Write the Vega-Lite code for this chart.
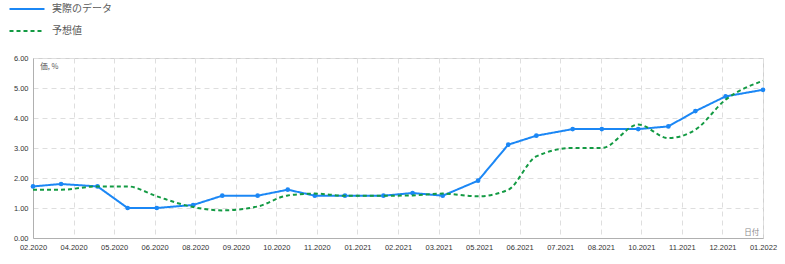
{
  "$schema": "https://vega.github.io/schema/vega-lite/v6.json",
  "width": 730,
  "height": 180,
  "autosize": {"type": "none"},
  "padding": {"left": 33, "top": 58, "right": 22, "bottom": 26},
  "background": "white",
  "config": {
    "view": {"stroke": "#d0d0d0", "strokeWidth": 1},
    "font": "Liberation Sans",
    "axis": {
      "grid": true,
      "gridColor": "#dedede",
      "gridDash": [5, 4],
      "gridWidth": 1,
      "ticks": false,
      "domainColor": "#b0b0b0",
      "labelFont": "Liberation Sans",
      "labelFontSize": 7.5,
      "labelColor": "#333333",
      "labelPadding": 5,
      "titleFont": "Noto Sans CJK JP",
      "titleFontSize": 7.5,
      "titleFontWeight": "normal",
      "titleAngle": 0
    }
  },
  "data": {
    "values": [
      {"date": "2020-02-29", "series": "実際のデータ", "value": 1.72},
      {"date": "2020-03-27", "series": "実際のデータ", "value": 1.80},
      {"date": "2020-05-01", "series": "実際のデータ", "value": 1.72},
      {"date": "2020-05-30", "series": "実際のデータ", "value": 1.00},
      {"date": "2020-06-27", "series": "実際のデータ", "value": 1.00},
      {"date": "2020-08-01", "series": "実際のデータ", "value": 1.10},
      {"date": "2020-08-29", "series": "実際のデータ", "value": 1.41},
      {"date": "2020-10-02", "series": "実際のデータ", "value": 1.41},
      {"date": "2020-10-31", "series": "実際のデータ", "value": 1.61},
      {"date": "2020-11-26", "series": "実際のデータ", "value": 1.41},
      {"date": "2020-12-25", "series": "実際のデータ", "value": 1.41},
      {"date": "2021-01-31", "series": "実際のデータ", "value": 1.41},
      {"date": "2021-02-28", "series": "実際のデータ", "value": 1.50},
      {"date": "2021-03-29", "series": "実際のデータ", "value": 1.41},
      {"date": "2021-05-02", "series": "実際のデータ", "value": 1.91},
      {"date": "2021-05-31", "series": "実際のデータ", "value": 3.11},
      {"date": "2021-06-27", "series": "実際のデータ", "value": 3.41},
      {"date": "2021-08-01", "series": "実際のデータ", "value": 3.63},
      {"date": "2021-08-29", "series": "実際のデータ", "value": 3.63},
      {"date": "2021-10-03", "series": "実際のデータ", "value": 3.63},
      {"date": "2021-11-01", "series": "実際のデータ", "value": 3.72},
      {"date": "2021-11-27", "series": "実際のデータ", "value": 4.23},
      {"date": "2021-12-26", "series": "実際のデータ", "value": 4.72},
      {"date": "2022-01-31", "series": "実際のデータ", "value": 4.94},
      {"date": "2020-02-29", "series": "予想値", "value": 1.61},
      {"date": "2020-03-27", "series": "予想値", "value": 1.61},
      {"date": "2020-05-01", "series": "予想値", "value": 1.72},
      {"date": "2020-05-30", "series": "予想値", "value": 1.72},
      {"date": "2020-06-27", "series": "予想値", "value": 1.39},
      {"date": "2020-08-01", "series": "予想値", "value": 1.03},
      {"date": "2020-08-29", "series": "予想値", "value": 0.92},
      {"date": "2020-10-02", "series": "予想値", "value": 1.05},
      {"date": "2020-10-31", "series": "予想値", "value": 1.42},
      {"date": "2020-11-26", "series": "予想値", "value": 1.48},
      {"date": "2020-12-25", "series": "予想値", "value": 1.41},
      {"date": "2021-01-31", "series": "予想値", "value": 1.41},
      {"date": "2021-02-28", "series": "予想値", "value": 1.42},
      {"date": "2021-03-29", "series": "予想値", "value": 1.48},
      {"date": "2021-05-02", "series": "予想値", "value": 1.39},
      {"date": "2021-05-31", "series": "予想値", "value": 1.61},
      {"date": "2021-06-27", "series": "予想値", "value": 2.72},
      {"date": "2021-08-01", "series": "予想値", "value": 3.00},
      {"date": "2021-08-29", "series": "予想値", "value": 3.00},
      {"date": "2021-10-03", "series": "予想値", "value": 3.78},
      {"date": "2021-11-01", "series": "予想値", "value": 3.33},
      {"date": "2021-11-27", "series": "予想値", "value": 3.61},
      {"date": "2021-12-26", "series": "予想値", "value": 4.61},
      {"date": "2022-01-31", "series": "予想値", "value": 5.24}
    ]
  },
  "encoding": {
    "x": {
      "field": "date",
      "type": "temporal",
      "scale": {
        "type": "utc",
        "domain": [
          {"year": 2020, "month": 2, "date": 29, "utc": true},
          {"year": 2022, "month": 1, "date": 31, "utc": true}
        ]
      },
      "axis": {
        "format": "%m.%Y",
        "labelOverlap": false,
        "labelFlush": false,
        "title": "日付",
        "titleColor": "#888888",
        "titleX": 725.7,
        "titleY": -5.6,
        "titleAlign": "right",
        "titleBaseline": "middle",
        "values": [
          {"year": 2020, "month": 2, "date": 29, "utc": true},
          {"year": 2020, "month": 4, "date": 8, "utc": true},
          {"year": 2020, "month": 5, "date": 17, "utc": true},
          {"year": 2020, "month": 6, "date": 25, "utc": true},
          {"year": 2020, "month": 8, "date": 3, "utc": true},
          {"year": 2020, "month": 9, "date": 11, "utc": true},
          {"year": 2020, "month": 10, "date": 20, "utc": true},
          {"year": 2020, "month": 11, "date": 28, "utc": true},
          {"year": 2021, "month": 1, "date": 6, "utc": true},
          {"year": 2021, "month": 2, "date": 14, "utc": true},
          {"year": 2021, "month": 3, "date": 25, "utc": true},
          {"year": 2021, "month": 5, "date": 3, "utc": true},
          {"year": 2021, "month": 6, "date": 11, "utc": true},
          {"year": 2021, "month": 7, "date": 20, "utc": true},
          {"year": 2021, "month": 8, "date": 28, "utc": true},
          {"year": 2021, "month": 10, "date": 6, "utc": true},
          {"year": 2021, "month": 11, "date": 14, "utc": true},
          {"year": 2021, "month": 12, "date": 23, "utc": true},
          {"year": 2022, "month": 1, "date": 31, "utc": true}
        ]
      }
    },
    "y": {
      "field": "value",
      "type": "quantitative",
      "scale": {"domain": [0, 6], "nice": false, "zero": true},
      "axis": {
        "values": [0, 1, 2, 3, 4, 5, 6],
        "format": ".2f",
        "title": "価, %",
        "titleColor": "#555555",
        "titleX": 6.7,
        "titleY": 8.2,
        "titleAlign": "left",
        "titleBaseline": "middle"
      }
    }
  },
  "layer": [
    {
      "transform": [{"filter": "datum.series === '実際のデータ'"}],
      "mark": {"type": "line", "strokeWidth": 2},
      "encoding": {
        "color": {
          "field": "series",
          "type": "nominal",
          "scale": {"domain": ["実際のデータ", "予想値"], "range": ["#1b87f5", "#139a43"]},
          "legend": {"orient": "none", "legendX": -16, "legendY": -59, "title": null, "direction": "vertical", "symbolType": "M-2,0H2", "symbolSize": 306, "symbolStrokeWidth": 2, "labelOffset": 15, "labelFont": "Noto Sans CJK JP", "labelFontSize": 10, "labelColor": "#5a5a5a", "rowPadding": 7, "padding": 0}
        },
        "strokeDash": {
          "field": "series",
          "type": "nominal",
          "scale": {"domain": ["実際のデータ", "予想値"], "range": [[1, 0], [4, 3]]},
          "legend": {"orient": "none", "legendX": -16, "legendY": -59, "title": null, "direction": "vertical", "symbolType": "M-2,0H2", "symbolSize": 306, "symbolStrokeWidth": 2, "labelOffset": 15, "labelFont": "Noto Sans CJK JP", "labelFontSize": 10, "labelColor": "#5a5a5a", "rowPadding": 7, "padding": 0}
        }
      }
    },
    {
      "transform": [{"filter": "datum.series === '実際のデータ'"}],
      "mark": {"type": "point", "filled": true, "size": 22, "opacity": 1, "color": "#1b87f5"}
    },
    {
      "transform": [{"filter": "datum.series === '予想値'"}],
      "mark": {"type": "line", "strokeWidth": 2, "interpolate": "monotone"},
      "encoding": {
        "color": {"field": "series", "type": "nominal"},
        "strokeDash": {"field": "series", "type": "nominal"}
      }
    }
  ]
}
